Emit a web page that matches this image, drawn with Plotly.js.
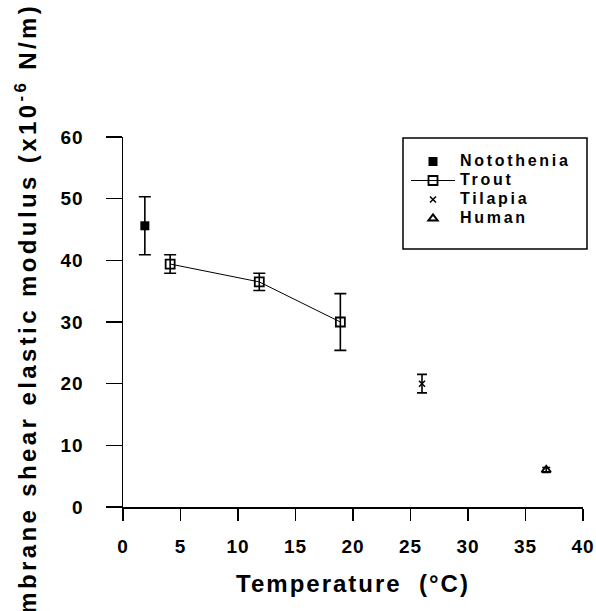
<!DOCTYPE html>
<html>
<head>
<meta charset="utf-8">
<script src="https://cdn.plot.ly/plotly-3.0.1.min.js"></script>
<style>
  html, body { margin: 0; padding: 0; background: #fff; }
  #chart { width: 596px; height: 611px; }
  .legendtext { letter-spacing: 2.7px; font-size: 16px !important; font-weight: bold !important; }
  .annotation-text { letter-spacing: 3.4px; }
  .g-xtitle text { letter-spacing: 2px; }
  .xtick text, .ytick text { letter-spacing: 1px; }
</style>
</head>
<body>
<div id="chart"></div>
<script>
// ---- data ----
const notoX = [1.9];
const notoY = [45.6];
const notoErr = [4.7];

const troutX = [4.1, 11.85, 18.9];
const troutY = [39.4, 36.5, 30.0];
const troutErr = [1.5, 1.4, 4.6];

const tilapiaX = [26.0];
const tilapiaY = [20.0];
const tilapiaErr = [1.5];

const humanX = [36.8];
const humanY = [6.0];
const humanErr = [0.4];

const seriesNames = ['Notothenia', 'Trout', 'Tilapia', 'Human'];
const xTicks = [0, 5, 10, 15, 20, 25, 30, 35, 40];
const yTicks = [0, 10, 20, 30, 40, 50, 60];

const FONT = 'Liberation Sans, Arial, Helvetica, sans-serif';
const BLACK = '#000';

function errY(arr, w) {
  return { type: 'data', array: arr, visible: true, color: BLACK, thickness: 1.6, width: w };
}

const traces = [
  {
    x: notoX, y: notoY, name: seriesNames[0], type: 'scatter', mode: 'markers',
    marker: { symbol: 'square', size: 9, color: BLACK },
    error_y: errY(notoErr, 6)
  },
  {
    x: troutX, y: troutY, name: seriesNames[1], type: 'scatter', mode: 'lines+markers',
    line: { color: BLACK, width: 1 },
    marker: { symbol: 'square-open', size: 9, color: BLACK, line: { width: 1.8, color: BLACK } },
    error_y: errY(troutErr, 6)
  },
  {
    x: tilapiaX, y: tilapiaY, name: seriesNames[2], type: 'scatter', mode: 'markers',
    marker: { symbol: 'x-thin-open', size: 6, color: BLACK, line: { width: 1.5, color: BLACK } },
    error_y: errY(tilapiaErr, 5)
  },
  {
    x: humanX, y: humanY, name: seriesNames[3], type: 'scatter', mode: 'markers',
    marker: { symbol: 'triangle-up-open', size: 8, color: BLACK, line: { width: 2, color: BLACK } },
    error_y: errY(humanErr, 4)
  }
];

// plot area in pixels: left 123, right 583, top 137, bottom 507
const L = 123, R = 583, T = 137, B = 507;
const px = v => (v - L) / (R - L);
const py = v => (B - v) / (B - T);

const layout = {
  width: 596, height: 611,
  margin: { l: L, r: 596 - R, t: T, b: 611 - B },
  paper_bgcolor: '#fff', plot_bgcolor: '#fff',
  showlegend: true,
  font: { family: FONT, size: 15, weight: 'bold', color: BLACK },
  xaxis: {
    range: [0, 40], tickvals: xTicks, ticktext: xTicks.map(String),
    showgrid: false, zeroline: false, showline: true, linecolor: BLACK, linewidth: 1.5,
    ticks: 'outside', ticklen: 12, tickwidth: 1.5, tickcolor: BLACK,
    ticklabelstandoff: 10,
    tickfont: { family: FONT, size: 19, weight: 'bold', color: BLACK },
    title: { text: 'Temperature\u00A0 (°C)', standoff: 19,
             font: { family: FONT, size: 24, weight: 'bold', color: BLACK } }
  },
  yaxis: {
    range: [0, 60], tickvals: yTicks, ticktext: yTicks.map(String),
    showgrid: false, zeroline: false, showline: true, linecolor: BLACK, linewidth: 1.5,
    ticks: 'outside', ticklen: 16, tickwidth: 1.5, tickcolor: BLACK,
    ticklabelstandoff: 18,
    tickfont: { family: FONT, size: 19, weight: 'bold', color: BLACK }
  },
  legend: {
    x: px(406), xanchor: 'left', y: py(147), yanchor: 'top',
    bgcolor: 'rgba(0,0,0,0)', borderwidth: 0, itemwidth: 44, traceorder: 'normal',
    font: { family: FONT, size: 11, weight: 'bold', color: BLACK }
  },
  shapes: [
    { type: 'rect', xref: 'paper', yref: 'paper',
      x0: px(403), x1: px(587), y0: py(249), y1: py(138),
      line: { color: BLACK, width: 1.5 }, fillcolor: 'rgba(0,0,0,0)' }
  ],
  annotations: [
    { text: 'Membrane shear elastic modulus (x10<sup>-6</sup> N/m)',
      xref: 'paper', yref: 'paper', x: px(26), y: py(329),
      xanchor: 'center', yanchor: 'middle', textangle: -90, showarrow: false,
      font: { family: FONT, size: 24, weight: 'bold', color: BLACK } }
  ]
};

Plotly.newPlot('chart', traces, layout, { displayModeBar: false, staticPlot: true });
</script>
</body>
</html>
